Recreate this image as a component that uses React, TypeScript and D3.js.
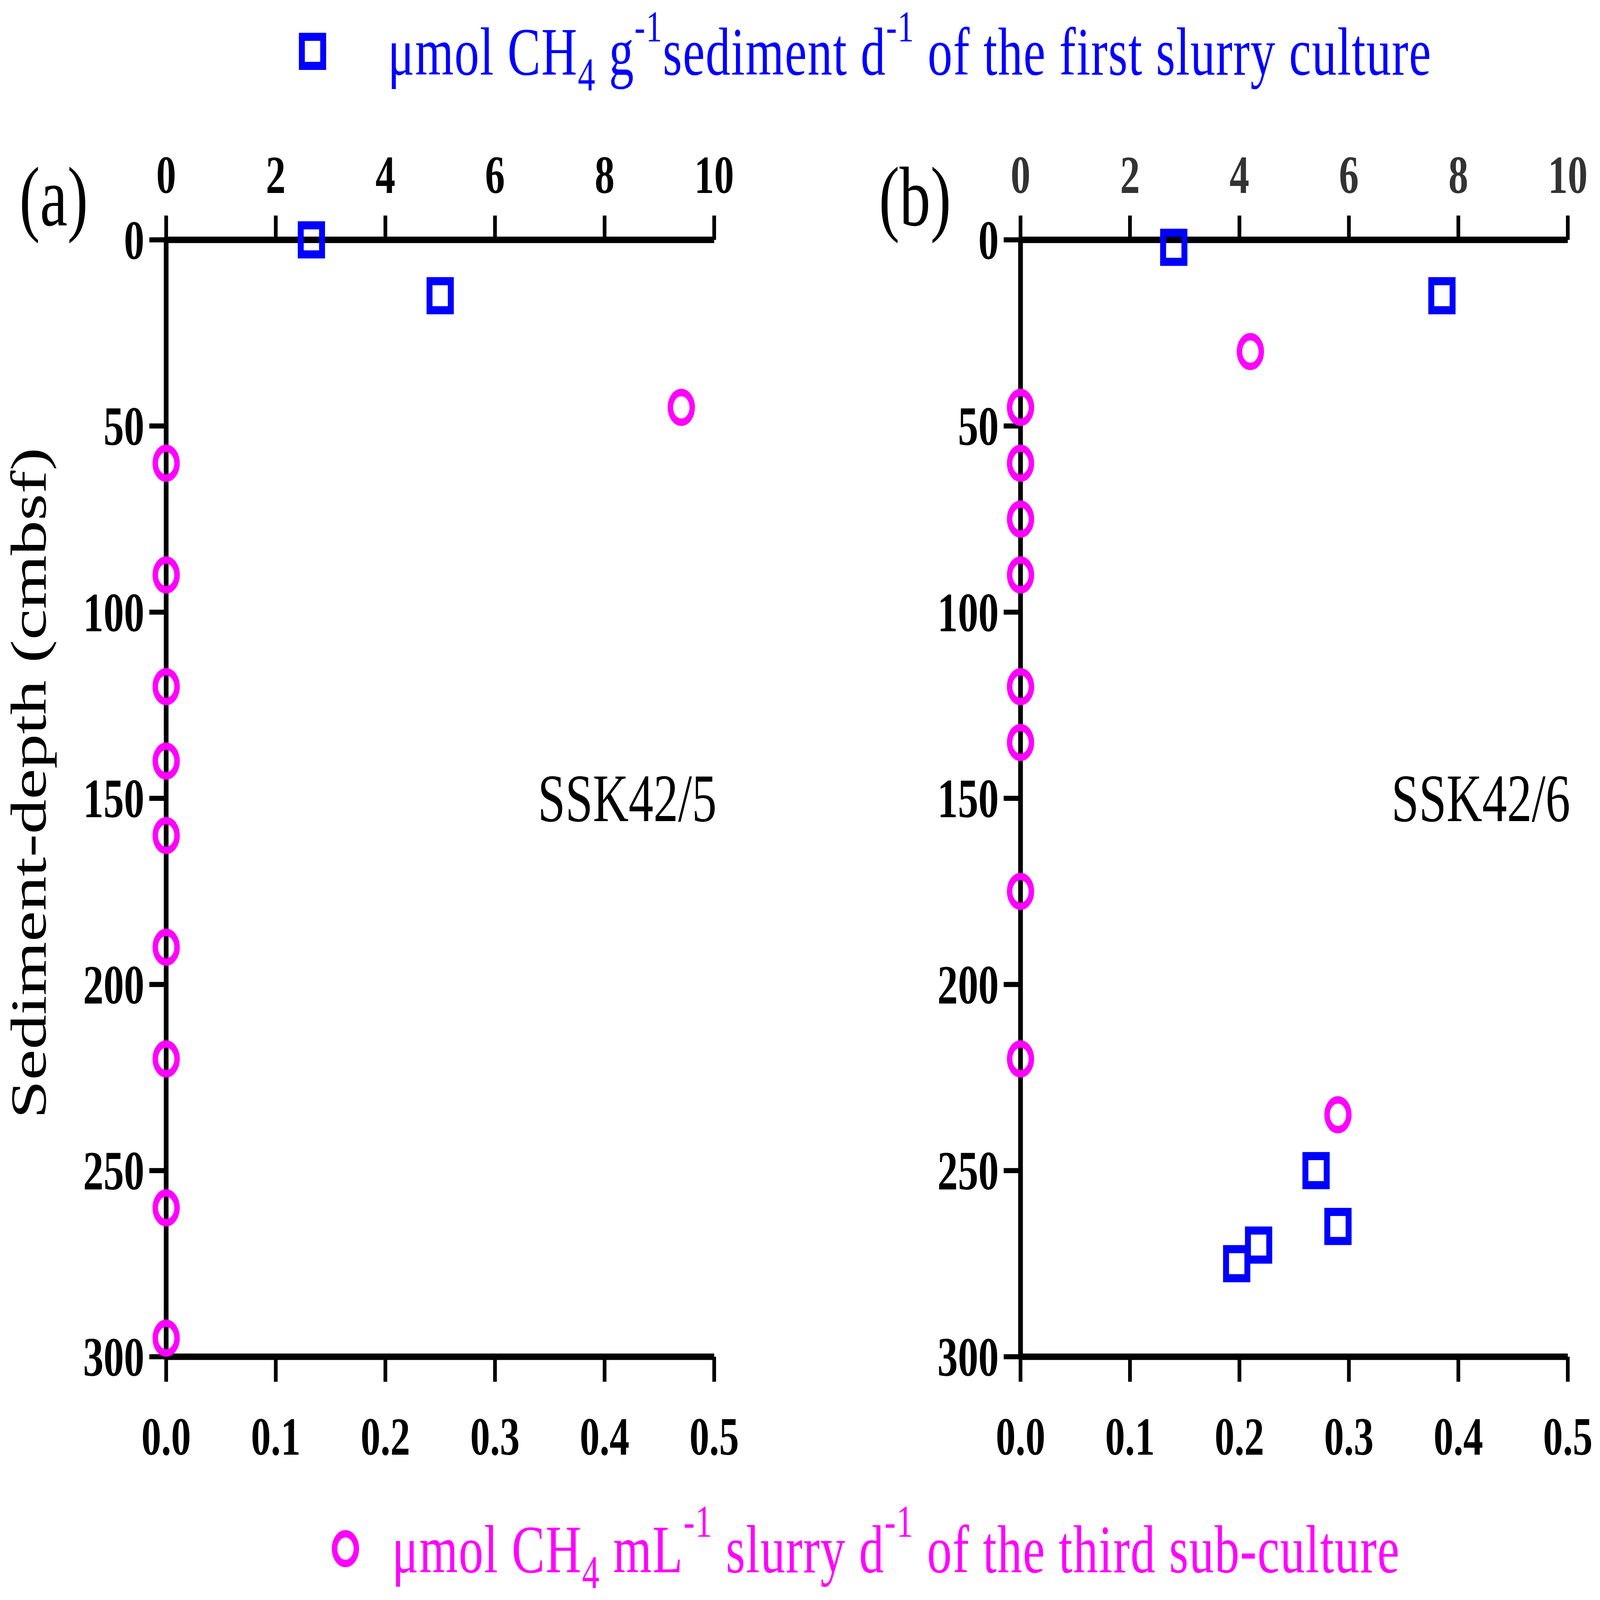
import React from 'react';
import * as d3 from 'd3';

// depth (cmbsf) and rate pairs
const firstCultureA: [number, number][] = [
  [2.65, 0],
  [5.0, 15],
];
const thirdSubA: [number, number][] = [
  [0.47, 45],
  [0, 60],
  [0, 90],
  [0, 120],
  [0, 140],
  [0, 160],
  [0, 190],
  [0, 220],
  [0, 260],
  [0, 295],
];
const firstCultureB: [number, number][] = [
  [2.8, 2],
  [7.7, 15],
  [5.4, 250],
  [5.8, 265],
  [4.35, 270],
  [3.95, 275],
];
const thirdSubB: [number, number][] = [
  [0.21, 30],
  [0, 45],
  [0, 60],
  [0, 75],
  [0, 90],
  [0, 120],
  [0, 135],
  [0, 175],
  [0, 220],
  [0.29, 235],
];

const depthTicks = [0, 50, 100, 150, 200, 250, 300];
const topTicks = [0, 2, 4, 6, 8, 10];
const bottomTicks = [0, 0.1, 0.2, 0.3, 0.4, 0.5];

const W = 6461;
const H = 4736;
const FONT = '"Liberation Serif", "Times New Roman", serif';
const BLUE = '#0000ff';
const MAGENTA = '#ff00ff';

const y = d3.scaleLinear().domain([0, 300]).range([710, 4016]);

type PanelProps = {
  letter: string;
  site: string;
  x0: number;
  x1: number;
  letterX: number;
  topColor: string;
  squares: [number, number][];
  circles: [number, number][];
};

const Panel: React.FC<PanelProps> = ({ letter, site, x0, x1, letterX, topColor, squares, circles }) => {
  const xTop = d3.scaleLinear().domain([0, 10]).range([x0, x1]);
  const xBot = d3.scaleLinear().domain([0, 0.5]).range([x0, x1]);
  const fmt = d3.format('.1f');
  const yTop = y(0);
  const yBot = y(300);
  return (
    <g>
      {/* axes */}
      <line x1={x0} x2={x1} y1={yTop} y2={yTop} stroke="#000" strokeWidth={19} />
      <line x1={x0} x2={x1} y1={yBot} y2={yBot} stroke="#000" strokeWidth={19} />
      <line x1={x0} x2={x0} y1={yTop} y2={yBot} stroke="#000" strokeWidth={19} />
      {topTicks.map(t => (
        <g key={'t' + t}>
          <line x1={xTop(t)} x2={xTop(t)} y1={yTop} y2={yTop - 72} stroke="#000" strokeWidth={15} />
          <text x={xTop(t)} y={571} textAnchor="middle" fontFamily={FONT} fontWeight="bold" fontSize={160} fill={topColor}>
            {t}
          </text>
        </g>
      ))}
      {bottomTicks.map(t => (
        <g key={'b' + t}>
          <line x1={xBot(t)} x2={xBot(t)} y1={yBot} y2={yBot + 74} stroke="#000" strokeWidth={15} />
          <text x={xBot(t)} y={4306} textAnchor="middle" fontFamily={FONT} fontWeight="bold" fontSize={160} fill="#000">
            {fmt(t)}
          </text>
        </g>
      ))}
      {depthTicks.map(t => (
        <g key={'d' + t}>
          <line x1={x0} x2={x0 - 68} y1={y(t)} y2={y(t)} stroke="#000" strokeWidth={15} />
          <text x={x0 - 88} y={y(t)} dy="0.34em" textAnchor="end" fontFamily={FONT} fontWeight="bold" fontSize={165} fill="#000">
            {t}
          </text>
        </g>
      ))}
      <text x={letterX} y={667} fontFamily={FONT} fontSize={250} fill="#000">
        {letter}
      </text>
      <text x={x1 + 10} y={2431} textAnchor="end" fontFamily={FONT} fontSize={200} fill="#000">
        {site}
      </text>
      {/* markers */}
      {circles.map(([v, d], i) => (
        <circle key={'c' + i} cx={xBot(v)} cy={y(d)} r={44} fill="none" stroke={MAGENTA} strokeWidth={22} />
      ))}
      {squares.map(([v, d], i) => (
        <rect key={'s' + i} x={xTop(v) - 43} y={y(d) - 43} width={86} height={86} fill="none" stroke={BLUE} strokeWidth={24} />
      ))}
    </g>
  );
};

const App: React.FC = () => {
  return (
    <svg
      viewBox={`0 0 ${W} ${H}`}
      preserveAspectRatio="none"
      style={{ position: 'absolute', left: 0, top: 0, width: '100vw', height: '100vh', background: '#fff' }}
    >
      <rect width={W} height={H} fill="#fff" />
      {/* top legend */}
      <rect x={1262 - 43} y={152 - 43} width={86} height={86} fill="none" stroke={BLUE} strokeWidth={24} />
      <text x={1566} y={221} fontFamily={FONT} fontSize={200} letterSpacing={3} fill={BLUE}>
        <tspan>μmol CH</tspan>
        <tspan dy={46} fontSize={140}>4</tspan>
        <tspan dy={-46}> g</tspan>
        <tspan dy={-98} fontSize={130}>-1</tspan>
        <tspan dy={98}>sediment d</tspan>
        <tspan dy={-98} fontSize={130}>-1</tspan>
        <tspan dy={98}> of the first slurry culture</tspan>
      </text>
      {/* bottom legend */}
      <circle cx={1395} cy={4584} r={44} fill="none" stroke={MAGENTA} strokeWidth={22} />
      <text x={1583} y={4654} fontFamily={FONT} fontSize={200} letterSpacing={3} fill={MAGENTA}>
        <tspan>μmol CH</tspan>
        <tspan dy={46} fontSize={140}>4</tspan>
        <tspan dy={-46}> mL</tspan>
        <tspan dy={-105} fontSize={135}>-1</tspan>
        <tspan dy={105}>  slurry d</tspan>
        <tspan dy={-105} fontSize={135}>-1</tspan>
        <tspan dy={105}> of the third sub-culture</tspan>
      </text>
      {/* y axis title */}
      <text
        transform={`translate(184, ${y(150) - 45}) rotate(-90)`}
        textAnchor="middle"
        fontFamily={FONT}
        fontSize={205}
        fill="#000"
      >
        Sediment-depth (cmbsf)
      </text>
      <Panel letter="(a)" site="SSK42/5" x0={671} x1={2884} letterX={78} topColor="#000" squares={firstCultureA} circles={thirdSubA} />
      <Panel letter="(b)" site="SSK42/6" x0={4121} x1={6331} letterX={3549} topColor="#333" squares={firstCultureB} circles={thirdSubB} />
    </svg>
  );
};

export default App;
